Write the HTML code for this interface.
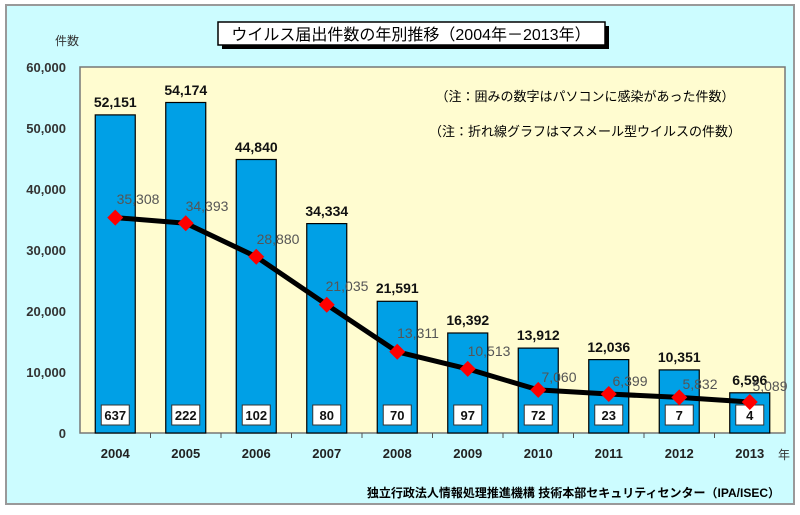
<!DOCTYPE html><html><head><meta charset="utf-8"><style>body{margin:0;width:800px;height:510px;background:#fff;overflow:hidden}</style></head><body>
<svg width="800" height="510" xmlns="http://www.w3.org/2000/svg" font-family="Liberation Sans, Noto Sans CJK JP, sans-serif">
<rect x="6" y="5" width="788" height="499" fill="#ccfcff" stroke="#999" stroke-width="2"/>
<rect x="80" y="67" width="705" height="366" fill="#fffcd0" stroke="#777" stroke-width="1.5"/>
<rect x="222" y="26" width="387" height="23" fill="#000"/>
<rect x="218" y="22" width="387" height="23" fill="#fff" stroke="#000" stroke-width="1.5"/>
<text x="411" y="40" font-size="16" text-anchor="middle" fill="#000">ウイルス届出件数の年別推移（2004年－2013年）</text>
<text x="55" y="45" font-size="12" fill="#333">件数</text>
<g font-size="13" font-weight="bold" fill="#333" text-anchor="end">
<text x="66" y="72">60,000</text><text x="66" y="133">50,000</text><text x="66" y="194">40,000</text><text x="66" y="255">30,000</text><text x="66" y="316">20,000</text><text x="66" y="377">10,000</text><text x="66" y="438">0</text></g>
<text x="585" y="101" font-size="13" text-anchor="middle" fill="#000">（注：囲みの数字はパソコンに感染があった件数）</text>
<text x="585" y="136" font-size="13" text-anchor="middle" fill="#000">（注：折れ線グラフはマスメール型ウイルスの件数）</text>
<g fill="#00a0e6" stroke="#000" stroke-width="1.2">
<rect x="95.25" y="114.9" width="40" height="318.1"/>
<rect x="165.75" y="102.5" width="40" height="330.5"/>
<rect x="236.25" y="159.5" width="40" height="273.5"/>
<rect x="306.75" y="223.6" width="40" height="209.4"/>
<rect x="377.25" y="301.3" width="40" height="131.7"/>
<rect x="447.75" y="333" width="40" height="100"/>
<rect x="518.25" y="348.1" width="40" height="84.9"/>
<rect x="588.75" y="359.6" width="40" height="73.4"/>
<rect x="659.25" y="369.9" width="40" height="63.1"/>
<rect x="729.75" y="392.8" width="40" height="40.2"/>
</g>
<g font-size="14" font-weight="bold" text-anchor="middle" fill="#111">
<text x="115.25" y="107">52,151</text><text x="185.75" y="95">54,174</text><text x="256.25" y="152">44,840</text><text x="326.75" y="216">34,334</text><text x="397.25" y="293">21,591</text><text x="467.75" y="325">16,392</text><text x="538.25" y="340">13,912</text><text x="608.75" y="352">12,036</text><text x="679.25" y="362">10,351</text><text x="749.75" y="385">6,596</text>
</g>
<g fill="#fff" stroke="#333">
<rect x="101.25" y="405" width="28" height="20"/><rect x="171.75" y="405" width="28" height="20"/><rect x="242.25" y="405" width="28" height="20"/><rect x="312.75" y="405" width="28" height="20"/><rect x="383.25" y="405" width="28" height="20"/><rect x="453.75" y="405" width="28" height="20"/><rect x="524.25" y="405" width="28" height="20"/><rect x="594.75" y="405" width="28" height="20"/><rect x="665.25" y="405" width="28" height="20"/><rect x="735.75" y="405" width="28" height="20"/>
</g>
<g font-size="13" font-weight="bold" text-anchor="middle" fill="#111">
<text x="115.25" y="420">637</text><text x="185.75" y="420">222</text><text x="256.25" y="420">102</text><text x="326.75" y="420">80</text><text x="397.25" y="420">70</text><text x="467.75" y="420">97</text><text x="538.25" y="420">72</text><text x="608.75" y="420">23</text><text x="679.25" y="420">7</text><text x="749.75" y="420">4</text>
</g>
<g font-size="13" font-weight="bold" text-anchor="middle" fill="#222">
<text x="115.25" y="458">2004</text><text x="185.75" y="458">2005</text><text x="256.25" y="458">2006</text><text x="326.75" y="458">2007</text><text x="397.25" y="458">2008</text><text x="467.75" y="458">2009</text><text x="538.25" y="458">2010</text><text x="608.75" y="458">2011</text><text x="679.25" y="458">2012</text><text x="749.75" y="458">2013</text>
</g>
<g stroke="#555"><line x1="150.5" y1="433" x2="150.5" y2="438"/><line x1="221" y1="433" x2="221" y2="438"/><line x1="291.5" y1="433" x2="291.5" y2="438"/><line x1="362" y1="433" x2="362" y2="438"/><line x1="432.5" y1="433" x2="432.5" y2="438"/><line x1="503" y1="433" x2="503" y2="438"/><line x1="573.5" y1="433" x2="573.5" y2="438"/><line x1="644" y1="433" x2="644" y2="438"/><line x1="714.5" y1="433" x2="714.5" y2="438"/></g>
<polyline points="115.25,217.6 185.75,223.2 256.25,256.8 326.75,304.7 397.25,351.8 467.75,368.9 538.25,389.9 608.75,394 679.25,397.4 749.75,402" fill="none" stroke="#000" stroke-width="5" stroke-linejoin="round"/>
<g fill="#f00">
<polygon points="115.25,209.6 123.25,217.6 115.25,225.6 107.25,217.6"/>
<polygon points="185.75,215.2 193.75,223.2 185.75,231.2 177.75,223.2"/>
<polygon points="256.25,248.8 264.25,256.8 256.25,264.8 248.25,256.8"/>
<polygon points="326.75,296.7 334.75,304.7 326.75,312.7 318.75,304.7"/>
<polygon points="397.25,343.8 405.25,351.8 397.25,359.8 389.25,351.8"/>
<polygon points="467.75,360.9 475.75,368.9 467.75,376.9 459.75,368.9"/>
<polygon points="538.25,381.9 546.25,389.9 538.25,397.9 530.25,389.9"/>
<polygon points="608.75,386 616.75,394 608.75,402 600.75,394"/>
<polygon points="679.25,389.4 687.25,397.4 679.25,405.4 671.25,397.4"/>
<polygon points="749.75,394 757.75,402 749.75,410 741.75,402"/>
</g>
<g font-size="14" text-anchor="middle" fill="#555">
<text x="138" y="204">35,308</text><text x="207" y="211">34,393</text><text x="278" y="244">28,880</text><text x="347" y="291">21,035</text><text x="418" y="338">13,311</text><text x="489" y="356">10,513</text><text x="559" y="382">7,060</text><text x="630" y="386">6,399</text><text x="700" y="389">5,832</text><text x="770" y="391">5,089</text>
</g>
<text x="778" y="459" font-size="12" fill="#333">年</text>
<text x="780" y="497" font-size="12" font-weight="bold" text-anchor="end" fill="#000">独立行政法人情報処理推進機構 技術本部セキュリティセンター（IPA/ISEC）</text>
</svg></body></html>
